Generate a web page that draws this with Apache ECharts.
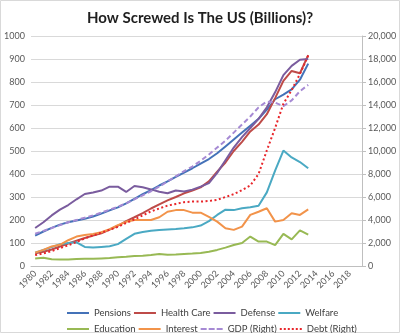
<!DOCTYPE html>
<html><head><meta charset="utf-8">
<script src="https://cdn.jsdelivr.net/npm/echarts@6/dist/echarts.min.js"></script>
<style>html,body{margin:0;padding:0;background:#fff}#c{width:400px;height:333px}</style>
</head><body><div id="c"></div>
<script>
// Categories: 1980..2019 (labels shown every 2 years)
const years = [];
for (let y = 1980; y <= 2019; y++) years.push(String(y));

// Left axis series (billions), 1980..2013
const pensions = [132,150,166,180,190,198,205,215,228,242,255,272,292,312,330,350,368,388,406,425,445,465,490,520,550,580,610,640,680,725,745,768,810,880];
const healthCare = [55,62,72,85,98,110,122,132,142,158,175,195,212,230,250,268,285,300,316,328,342,368,410,450,500,540,585,615,660,730,805,848,838,917];
const defense = [165,190,220,245,265,290,313,320,328,345,345,322,348,342,333,323,316,328,324,332,345,360,405,460,515,560,600,640,690,755,830,870,897,900];
const welfare = [58,70,82,95,100,103,83,80,83,86,95,118,140,148,153,156,159,161,164,168,176,195,222,245,243,251,255,262,320,415,502,472,452,425];
const education = [33,36,29,28,28,30,32,31,33,35,38,40,43,45,48,52,49,50,52,54,57,62,70,80,91,100,128,106,106,91,140,116,155,136];
const interest = [58,70,85,92,112,128,135,139,147,160,178,192,200,200,200,212,236,243,243,232,232,214,193,164,157,171,222,236,251,193,200,229,222,246];
// Right axis series (billions), 1980..2013
const gdp = [2800,3050,3300,3550,3800,4000,4200,4400,4650,4900,5150,5450,5800,6150,6500,6900,7350,7800,8250,8650,9150,9700,10300,10900,11600,12300,13000,13800,14300,14200,13900,14400,15200,15750];
const debt = [950,1100,1300,1550,1800,2100,2400,2650,2900,3150,3400,3750,4050,4400,4750,5000,5250,5400,5550,5600,5600,5650,5750,6000,6250,6600,7000,8000,10050,12000,14100,15300,16700,18300];

const leftTicks = {min:0, max:1000, interval:100};
const rightTicks = {min:0, max:20000, interval:2000};

const FONT = 'Lato, "Liberation Sans", sans-serif';
const ICON_SOLID = 'path://M0,0H22V2H0Z';
const ICON_DASH = 'path://M0,0H6V2H0Z M8,0H14V2H8Z M16,0H22V2H16Z';
const ICON_DOT = 'path://M0,0H2V2H0Z M4,0H6V2H4Z M8,0H10V2H8Z M12,0H14V2H12Z M16,0H18V2H16Z M20,0H22V2H20Z';

const chart = echarts.init(document.getElementById('c'), null, {renderer:'canvas'});

function ln(name, data, color, type, axis) {
  return {name, type:'line', data, yAxisIndex:axis||0, symbol:'none', showSymbol:false,
    lineStyle:{color, width:2, type:type||'solid'}, itemStyle:{color}, z: 2, animation:false};
}
function li(name, icon) { return {name, icon}; }

const legendCommon = {left:62, itemWidth:22, itemHeight:2, itemGap:3, symbolKeepAspect:false,
  textStyle:{fontSize:9.5, color:'#404040', width:40, fontFamily:FONT}};

chart.setOption({
  animation:false,
  textStyle:{fontFamily:FONT},
  graphic:[{type:'rect', shape:{x:0.5,y:0.5,width:399,height:332}, style:{fill:'none', stroke:'#d9d9d9', lineWidth:1}, silent:true}],
  title:{text:'How Screwed Is The US (Billions)?', left:'center', top:6,
    textStyle:{fontFamily:FONT, fontSize:15, fontWeight:'bold', color:'#1f1f1f'}},
  grid:{left:31, right:38, top:36, bottom:67},
  xAxis:{type:'category', data:years, boundaryGap:true,
    axisLine:{lineStyle:{color:'#bfbfbf'}}, axisTick:{show:false},
    axisLabel:{interval:1, rotate:45, fontSize:9, color:'#595959', margin:6, fontFamily:FONT}},
  yAxis:[
    {type:'value', min:leftTicks.min, max:leftTicks.max, interval:leftTicks.interval,
      axisLine:{show:false}, axisTick:{show:false},
      splitLine:{lineStyle:{color:'#d9d9d9'}},
      axisLabel:{fontSize:9, color:'#595959', margin:6, fontFamily:FONT, formatter:v=>String(v)}},
    {type:'value', position:'right', min:rightTicks.min, max:rightTicks.max, interval:rightTicks.interval,
      axisLine:{show:true, lineStyle:{color:'#bfbfbf'}}, axisTick:{show:true, inside:false, length:4, lineStyle:{color:'#bfbfbf'}},
      splitLine:{show:false},
      axisLabel:{fontSize:9, color:'#595959', margin:6, fontFamily:FONT,
        formatter:v=>v.toLocaleString('en-US')}}
  ],
  legend:[
    Object.assign({top:303, data:[li('Pensions',ICON_SOLID), li('Health Care',ICON_SOLID), li('Defense',ICON_SOLID), li('Welfare',ICON_SOLID)]}, legendCommon),
    Object.assign({top:319, data:[li('Education',ICON_SOLID), li('Interest',ICON_SOLID), li('GDP (Right)',ICON_DASH), li('Debt (Right)',ICON_DOT)]}, legendCommon)
  ],
  series:[
    ln('Pensions', pensions, '#4472b8'),
    ln('Health Care', healthCare, '#be4b48'),
    ln('Defense', defense, '#7a5c9e'),
    ln('Welfare', welfare, '#4aa9c3'),
    ln('Education', education, '#98b954'),
    ln('Interest', interest, '#f2934a'),
    ln('GDP (Right)', gdp, '#a68ad4', [5,3], 1),
    ln('Debt (Right)', debt, '#e8262b', [2,2.5], 1)
  ]
});
</script></body></html>
